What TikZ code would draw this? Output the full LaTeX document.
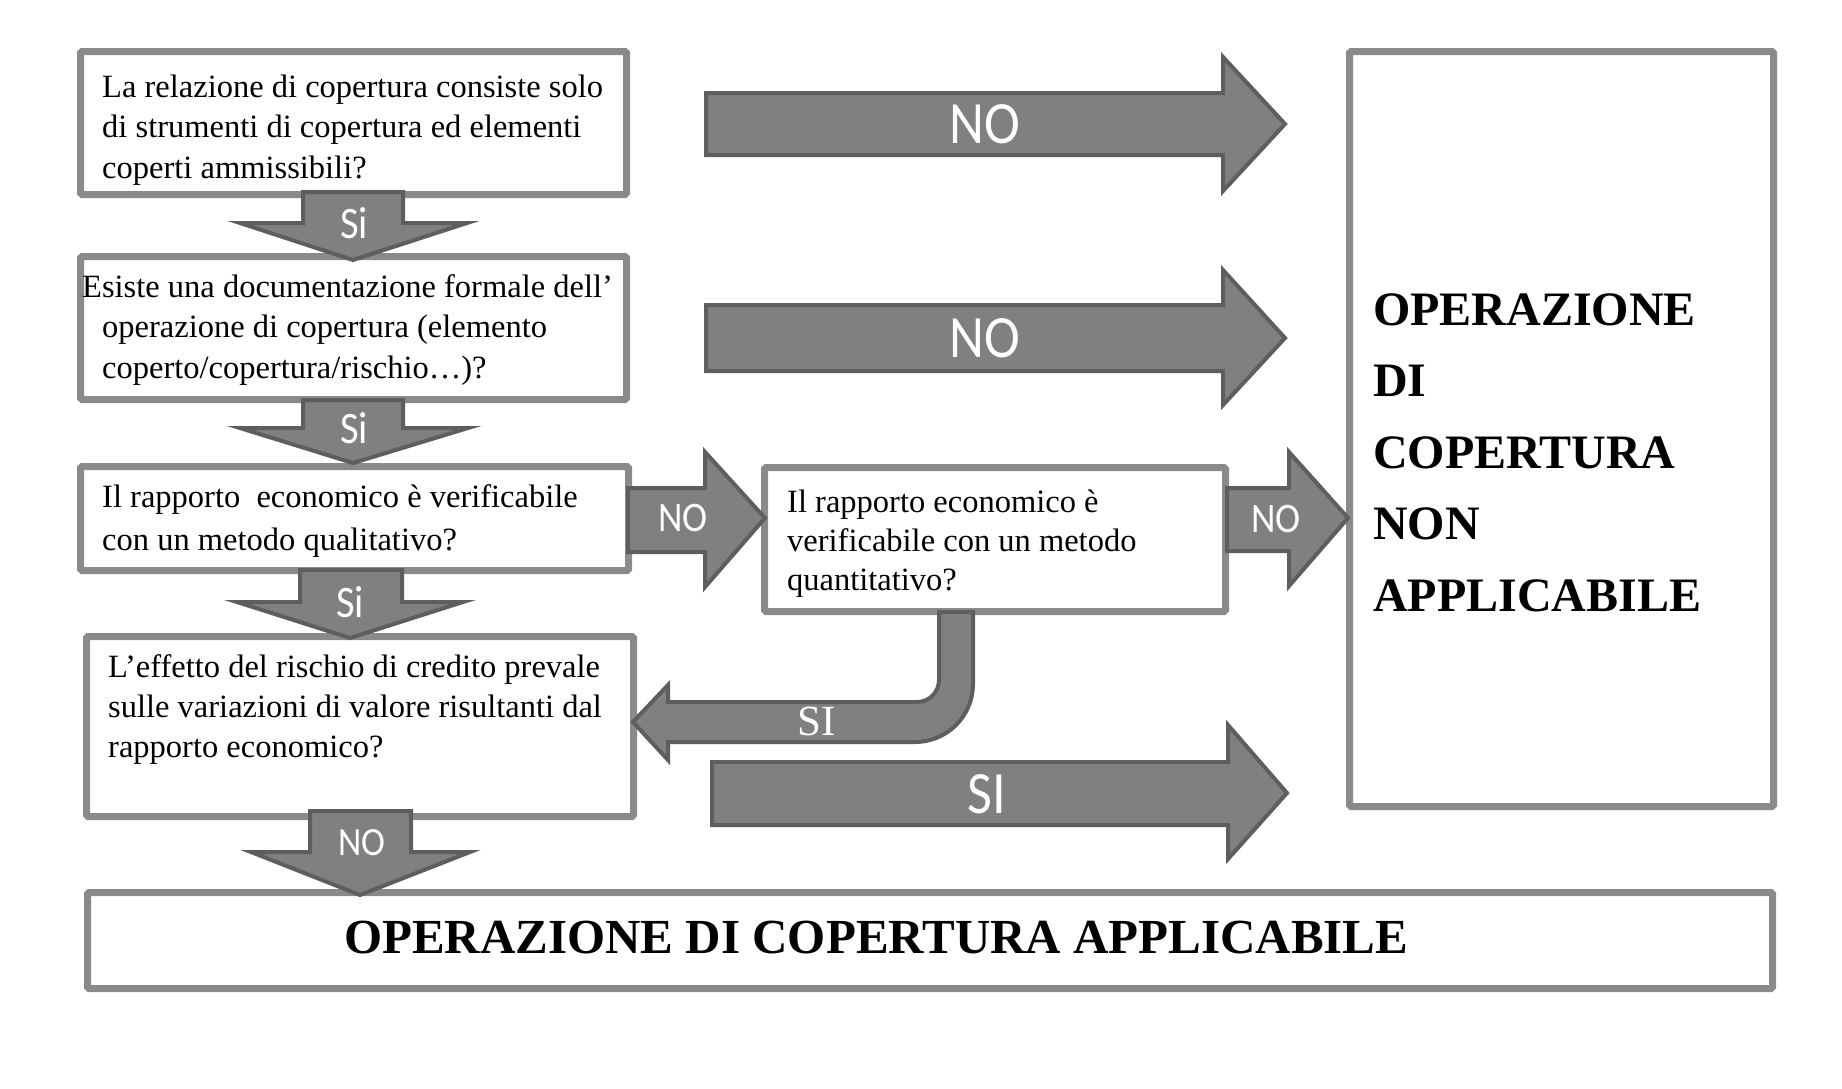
\documentclass[tikz,border=0pt]{standalone}
\usepackage{fontspec}
\setmainfont{Liberation Serif}
\newfontfamily\labfont{Carlito}[FakeStretch=0.9]
\begin{document}
\begin{tikzpicture}[x=1pt,y=-1pt,
  box/.style={draw=boxgray,line width=7pt,fill=white,rounded corners=1.5pt,anchor=north west,inner sep=0pt,outer sep=0pt},
  arr/.style={fill=arrfill,draw=arrline,line width=4pt,line join=miter},
  txt/.style={anchor=base west,inner sep=0pt,align=left},
  biglab/.style={text=white,inner sep=0pt,font=\labfont\fontsize{60pt}{60pt}\selectfont},
  smalllab/.style={text=white,inner sep=0pt,font=\labfont\fontsize{42pt}{42pt}\selectfont},
  silab/.style={text=white,inner sep=0pt,anchor=base,font=\labfont\fontsize{45pt}{45pt}\selectfont}
]
\definecolor{boxgray}{HTML}{8A8A8A}
\definecolor{arrfill}{HTML}{808080}
\definecolor{arrline}{HTML}{5E5E5E}
\fill[white] (0,0) rectangle (1842,1088);
\useasboundingbox (0,0) rectangle (1842,1088);

% boxes
\node[box,minimum width=546pt,minimum height=143pt] (b1) at (80.5,51.5) {};
\node[box,minimum width=546pt,minimum height=143pt] (b2) at (80.5,256.5) {};
\node[box,minimum width=548pt,minimum height=104pt] (b3) at (80.5,466.5) {};
\node[box,minimum width=547pt,minimum height=180pt] (b4) at (86.5,636.5) {};
\node[box,minimum width=461pt,minimum height=144pt] (b5) at (764.5,467.5) {};
\node[box,minimum width=424pt,minimum height=755pt] (bn) at (1349.5,51.5) {};
\node[box,minimum width=1685pt,minimum height=96pt] (ba) at (87.5,892.5) {};

% box texts
\node[txt] (t1) at (102,97) {\fontsize{32.5pt}{40.5pt}\selectfont\begin{tabular}[t]{@{}l@{}}La relazione di copertura consiste solo\\di strumenti di copertura ed elementi\\coperti ammissibili?\end{tabular}};
\node[txt] (t2) at (82,297) {\fontsize{32.5pt}{40.5pt}\selectfont\begin{tabular}[t]{@{}l@{}}Esiste una documentazione formale dell’\\\hspace*{20pt}operazione di copertura (elemento\\\hspace*{20pt}coperto/copertura/rischio…)?\end{tabular}};
\node[txt] (t3) at (102,507) {\fontsize{32.5pt}{43.5pt}\selectfont\begin{tabular}[t]{@{}l@{}}Il rapporto\ \ economico è verificabile\\con un metodo qualitativo?\end{tabular}};
\node[txt] (t4) at (108,677) {\fontsize{32.5pt}{40pt}\selectfont\begin{tabular}[t]{@{}l@{}}L’effetto del rischio di credito prevale\\sulle variazioni di valore risultanti dal\\rapporto economico?\end{tabular}};
\node[txt] (t5) at (787,512) {\fontsize{32.5pt}{39pt}\selectfont\begin{tabular}[t]{@{}l@{}}Il rapporto economico è\\verificabile con un metodo\\quantitativo?\end{tabular}};
\node[txt] (tn) at (1373,325) {\fontsize{48pt}{71.5pt}\selectfont\bfseries\begin{tabular}[t]{@{}l@{}}OPERAZIONE\\DI\\COPERTURA\\NON\\APPLICABILE\end{tabular}};
\node[txt] (ta) at (344,953) {\fontsize{49pt}{49pt}\selectfont\bfseries OPERAZIONE DI COPERTURA APPLICABILE};

% down arrows
\draw[arr] (303,192) -- (403,192) -- (403,223) -- (467,223) -- (353,260) -- (240,223) -- (303,223) -- cycle;
\draw[arr] (303,400) -- (403,400) -- (403,428) -- (468,428) -- (353,463) -- (240,428) -- (303,428) -- cycle;
\draw[arr] (300,570) -- (402,570) -- (402,602) -- (463,602) -- (350,638) -- (237,602) -- (300,602) -- cycle;
\draw[arr] (310,811) -- (411,811) -- (411,852) -- (470,852) -- (360,895) -- (251,852) -- (310,852) -- cycle;

% right arrows
\draw[arr] (706,93) -- (1223,93) -- (1223,57) -- (1285,124) -- (1223,191) -- (1223,155) -- (706,155) -- cycle;
\draw[arr] (706,305) -- (1223,305) -- (1223,270) -- (1285,338) -- (1223,405) -- (1223,371) -- (706,371) -- cycle;
\draw[arr] (712,762) -- (1228,762) -- (1228,725) -- (1287,793) -- (1228,859) -- (1228,825) -- (712,825) -- cycle;
\draw[arr] (628,488) -- (705,488) -- (705,452) -- (765,518) -- (705,587) -- (705,552) -- (628,552) -- cycle;
\draw[arr] (1227,488) -- (1289,488) -- (1289,452) -- (1348,518) -- (1289,586) -- (1289,551) -- (1227,551) -- cycle;

% bent arrow
\draw[arr] (939,612) -- (939,680) arc[start angle=0,end angle=90,radius=22] -- (668,702) -- (668,685) -- (633,722) -- (668,760) -- (668,742) -- (915,742) arc[start angle=90,end angle=0,radius=58] -- (973,612) -- cycle;

% labels
\node[biglab] (l1) at (985,124) {NO};
\node[biglab] (l2) at (985,338) {NO};
\node[biglab] (l3) at (987,794) {SI};
\node[smalllab] (l4) at (683,518) {NO};
\node[smalllab] (l5) at (1276,519) {NO};
\node[silab] (s1) at (354,238) {Si};
\node[silab] (s2) at (354,443) {Si};
\node[silab] (s3) at (350,617) {Si};
\node[silab,font=\labfont\fontsize{40pt}{40pt}\selectfont] (s4) at (362,855) {NO};
\node[anchor=base,inner sep=0pt,text=white,font=\fontsize{43pt}{43pt}\selectfont] (l6) at (817,735) {SI};
\end{tikzpicture}
\end{document}
